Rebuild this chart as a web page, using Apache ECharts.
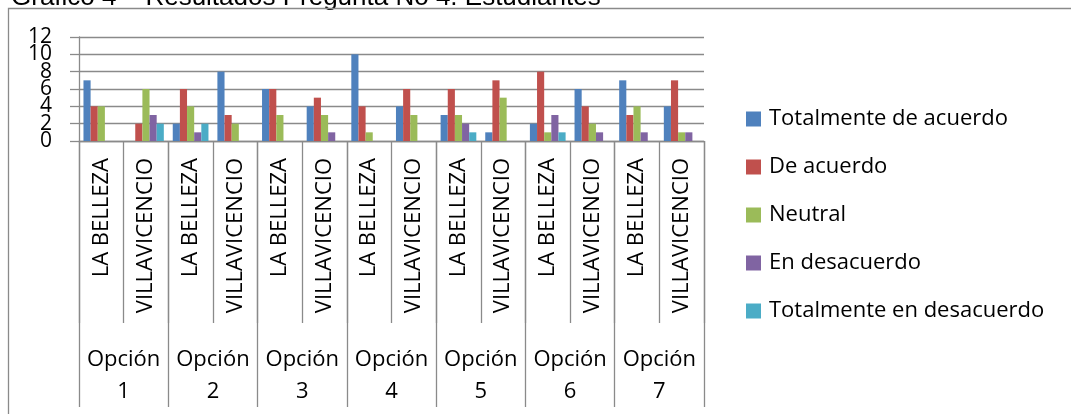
<!DOCTYPE html>
<html>
<head>
<meta charset="utf-8">
<script src="https://cdn.jsdelivr.net/npm/echarts@6/dist/echarts.min.js"></script>
<style>
html,body{margin:0;padding:0;background:#fff;}
#chart{width:1071px;height:414px;}
</style>
</head>
<body>
<div id="chart"></div>
<script>
const chartTitle = 'Gráfico 4 – Resultados Pregunta No 4. Estudiantes';
const groups = ['Opción\n1','Opción\n2','Opción\n3','Opción\n4','Opción\n5','Opción\n6','Opción\n7'];
const categories = ['LA BELLEZA','VILLAVICENCIO','LA BELLEZA','VILLAVICENCIO','LA BELLEZA','VILLAVICENCIO','LA BELLEZA','VILLAVICENCIO','LA BELLEZA','VILLAVICENCIO','LA BELLEZA','VILLAVICENCIO','LA BELLEZA','VILLAVICENCIO'];
const seriesNames = ['Totalmente de acuerdo','De acuerdo','Neutral','En desacuerdo','Totalmente en desacuerdo'];
const totalmenteDeAcuerdo = [7,0,2,8,6,4,10,4,3,1,2,6,7,4];
const deAcuerdo = [4,2,6,3,6,5,4,6,6,7,8,4,3,7];
const neutral = [4,6,4,2,3,3,1,3,3,5,1,2,4,1];
const enDesacuerdo = [0,3,1,0,0,1,0,0,2,0,3,1,1,1];
const totalmenteEnDesacuerdo = [0,2,2,0,0,0,0,0,1,0,1,0,0,0];
const yTicksA = [0,4,8,12];
const yTicksB = [2,6,10];
const colors = ['#4F81BD','#C0504D','#9BBB59','#8064A2','#4BACC6'];

const seriesData = [totalmenteDeAcuerdo, deAcuerdo, neutral, enDesacuerdo, totalmenteEnDesacuerdo];
const gridColor = '#8a8a8a';
const font = 'Open Sans';

function yAxisDef(ticks, main){
  return {
    type:'value', min:0, max:12, interval:2, position:'left', offset:0,
    axisLine:{show:main, lineStyle:{color:gridColor, width:1.3}},
    axisTick:{show:main, length:9, lineStyle:{color:gridColor, width:1.3}},
    axisLabel:{margin:27, fontFamily:font, fontSize:21, color:'#000',
      showMinLabel:true, showMaxLabel:true, hideOverlap:false,
      formatter:function(v){return ticks.indexOf(v)>=0 ? String(v) : '';}},
    splitLine:{show:main, lineStyle:{color:gridColor, width:1.3}}
  };
}

const chart = echarts.init(document.getElementById('chart'), null, {renderer:'canvas'});
chart.setOption({
  animation:false,
  backgroundColor:'#ffffff',
  color:colors,
  title:{
    text:chartTitle, left:11, top:-15, padding:0,
    textStyle:{fontFamily:'Liberation Sans', fontSize:26, fontWeight:'normal', color:'#000'}
  },
  graphic:[{
    type:'rect', shape:{x:8.5,y:8.5,width:1200,height:600},
    style:{fill:null, stroke:'#8a8a8a', lineWidth:1.3}, silent:true, z:100
  }],
  legend:{
    orient:'vertical', left:741, top:102, itemWidth:15, itemHeight:15, itemGap:24,
    icon:'rect',
    textStyle:{fontFamily:font, fontSize:22, color:'#000', lineHeight:24, padding:[0,0,0,3]},
    data:seriesNames
  },
  grid:{left:79, right:367, top:37, bottom:273, containLabel:false},
  xAxis:[{
    type:'category', data:categories, position:'bottom',
    axisLine:{show:true, lineStyle:{color:gridColor, width:1.3}},
    axisTick:{show:true, alignWithLabel:false, interval:0, length:182, lineStyle:{color:gridColor, width:1.3}},
    axisLabel:{interval:0, rotate:90, margin:17, fontFamily:font, fontSize:22, color:'#000'},
    splitLine:{show:false}
  },{
    type:'category', data:groups, position:'bottom', offset:0,
    axisLine:{show:false},
    axisTick:{show:true, alignWithLabel:false, interval:0, length:266, lineStyle:{color:gridColor, width:1.3}},
    axisLabel:{interval:0, margin:203, fontFamily:font, fontSize:22, color:'#000', lineHeight:32, align:'center'},
    splitLine:{show:false}
  }],
  yAxis:[yAxisDef(yTicksA, true), yAxisDef(yTicksB, false)],
  series:seriesNames.map(function(n,i){
    return {name:n, type:'bar', xAxisIndex:0, yAxisIndex:0, data:seriesData[i], barGap:'0%', barCategoryGap:'20%',
      itemStyle:{color:colors[i]}};
  })
});
</script>
</body>
</html>
